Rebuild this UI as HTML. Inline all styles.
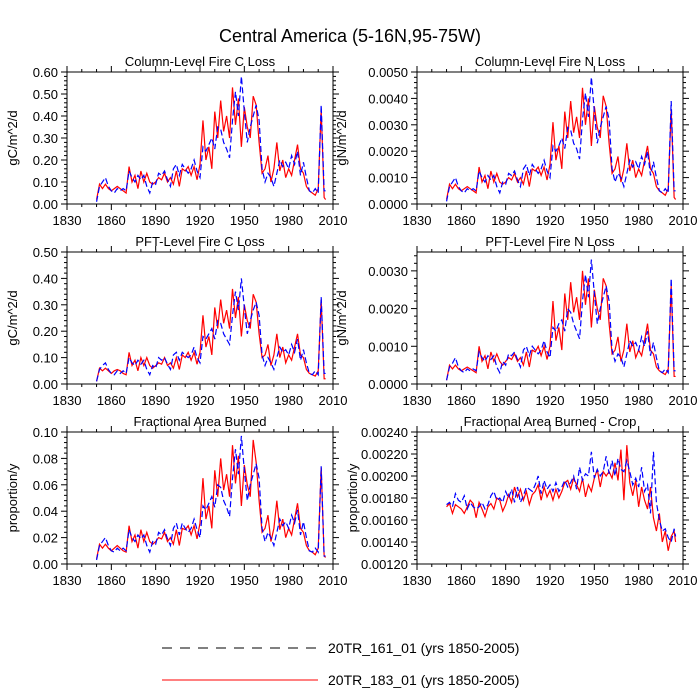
<!DOCTYPE html>
<html><head><meta charset="utf-8"><style>
body{margin:0;background:#fff;}
svg{display:block;font-family:"Liberation Sans",sans-serif;}
</style></head><body>
<svg id="fig" width="700" height="700" viewBox="0 0 700 700" xmlns="http://www.w3.org/2000/svg">
<text x="350" y="42" text-anchor="middle" font-size="18">Central America (5-16N,95-75W)</text>
<g>
<line x1="162" y1="648" x2="318" y2="648" stroke="#000" stroke-width="1" stroke-dasharray="10,8"/>
<text x="328" y="653" font-size="14">20TR_161_01 (yrs 1850-2005)</text>
<line x1="162" y1="680" x2="318" y2="680" stroke="#f00" stroke-width="1"/>
<text x="328" y="685" font-size="14">20TR_183_01 (yrs 1850-2005)</text>
</g>
</svg>
<script>
const p1Red=[0.02,0.09,0.07,0.09,0.07,0.06,0.07,0.08,0.07,0.06,
0.05,0.17,0.10,0.13,0.07,0.15,0.10,0.14,0.10,0.09,
0.10,0.12,0.11,0.14,0.10,0.12,0.09,0.15,0.08,0.16,
0.15,0.17,0.13,0.17,0.11,0.18,0.38,0.20,0.26,0.16,
0.42,0.30,0.47,0.33,0.40,0.30,0.53,0.36,0.48,0.26,
0.44,0.35,0.30,0.49,0.45,0.28,0.14,0.16,0.22,0.10,
0.16,0.28,0.15,0.20,0.12,0.16,0.13,0.20,0.27,0.16,
0.14,0.08,0.06,0.05,0.04,0.07,0.43,0.03,0.02];
const p1Blue=[0.01,0.08,0.10,0.12,0.08,0.06,0.05,0.07,0.06,0.07,
0.06,0.15,0.12,0.10,0.13,0.11,0.13,0.08,0.05,0.10,
0.09,0.14,0.13,0.15,0.11,0.08,0.16,0.18,0.13,0.18,
0.16,0.14,0.16,0.20,0.15,0.12,0.26,0.24,0.27,0.30,
0.25,0.35,0.34,0.28,0.25,0.21,0.38,0.51,0.40,0.58,
0.42,0.28,0.35,0.40,0.45,0.38,0.16,0.10,0.14,0.12,
0.08,0.14,0.20,0.17,0.19,0.16,0.22,0.18,0.24,0.13,
0.19,0.12,0.06,0.05,0.07,0.05,0.45,0.06,0.06];
const p2Red=[0.00017,0.00075,0.00058,0.00075,0.00058,0.0005,0.00058,0.00066,0.00058,0.0005,
0.00042,0.0014,0.00083,0.00108,0.00058,0.00125,0.00083,0.00116,0.00083,0.00075,
0.00083,0.001,0.00091,0.00116,0.00083,0.001,0.00075,0.00125,0.00066,0.00133,
0.00125,0.0014,0.00108,0.0014,0.00091,0.0015,0.0031,0.00166,0.0022,0.00133,
0.0035,0.0025,0.0039,0.0027,0.0033,0.0025,0.0044,0.003,0.004,0.0022,
0.0037,0.0029,0.0025,0.0041,0.0037,0.0023,0.00116,0.00133,0.0018,0.00083,
0.00133,0.0023,0.00125,0.00166,0.001,0.00133,0.00108,0.00166,0.0022,0.00133,
0.00116,0.00066,0.0005,0.00042,0.00033,0.00058,0.0036,0.00025,0.00017];
const p2Blue=[0.0001,0.00066,0.00083,0.001,0.00066,0.0005,0.00042,0.00058,0.0005,0.00058,
0.0005,0.00125,0.001,0.00083,0.00108,0.00091,0.00108,0.00066,0.00042,0.00083,
0.00075,0.00116,0.00108,0.00125,0.00091,0.00066,0.00133,0.0015,0.00108,0.0015,
0.00133,0.00116,0.00133,0.00166,0.00125,0.001,0.0022,0.002,0.0022,0.0025,
0.0021,0.0029,0.0028,0.0023,0.0021,0.0017,0.0032,0.0042,0.0033,0.0048,
0.0035,0.0023,0.0029,0.0033,0.0037,0.0032,0.00133,0.00083,0.00116,0.001,
0.00066,0.00116,0.00166,0.0014,0.0016,0.00133,0.0018,0.0015,0.002,0.00108,
0.0016,0.001,0.0005,0.00042,0.00058,0.00042,0.0039,0.0005,0.0005];
const p3Red=[0.01,0.06,0.05,0.06,0.05,0.04,0.05,0.055,0.05,0.04,
0.035,0.12,0.07,0.09,0.05,0.10,0.07,0.10,0.07,0.06,
0.07,0.08,0.075,0.10,0.07,0.08,0.06,0.10,0.055,0.11,
0.10,0.12,0.09,0.12,0.075,0.12,0.26,0.14,0.18,0.11,
0.29,0.21,0.32,0.23,0.28,0.21,0.36,0.25,0.33,0.18,
0.30,0.24,0.21,0.34,0.31,0.19,0.10,0.11,0.15,0.07,
0.11,0.19,0.10,0.14,0.08,0.11,0.09,0.14,0.19,0.11,
0.10,0.055,0.04,0.035,0.03,0.05,0.32,0.02,0.02];
const p3Blue=[0.01,0.055,0.07,0.08,0.055,0.04,0.035,0.05,0.04,0.05,
0.04,0.10,0.08,0.07,0.09,0.075,0.09,0.055,0.035,0.07,
0.06,0.10,0.09,0.10,0.075,0.055,0.11,0.12,0.09,0.12,
0.11,0.10,0.11,0.14,0.10,0.08,0.18,0.17,0.19,0.21,
0.17,0.24,0.23,0.19,0.17,0.15,0.26,0.35,0.28,0.40,
0.29,0.19,0.24,0.28,0.31,0.26,0.11,0.07,0.10,0.08,
0.055,0.10,0.14,0.12,0.13,0.11,0.15,0.12,0.17,0.09,
0.13,0.08,0.04,0.035,0.05,0.035,0.33,0.04,0.04];
const p4Red=[0.0001,0.0005,0.0004,0.0005,0.0004,0.00035,0.0004,0.00045,0.0004,0.00035,
0.0003,0.001,0.0006,0.00075,0.0004,0.00085,0.0006,0.0008,0.0006,0.0005,
0.0006,0.0007,0.00065,0.0008,0.0006,0.0007,0.0005,0.00085,0.00045,0.0009,
0.00085,0.001,0.00075,0.001,0.00065,0.001,0.0022,0.00115,0.0015,0.0009,
0.0024,0.0017,0.0027,0.0019,0.0023,0.0017,0.003,0.0021,0.0028,0.0015,
0.0025,0.002,0.0017,0.0028,0.0026,0.0016,0.0008,0.0009,0.00125,0.0006,
0.0009,0.0016,0.00085,0.00115,0.0007,0.0009,0.00075,0.00115,0.0016,0.0009,
0.0008,0.00045,0.00035,0.0003,0.00025,0.0004,0.0026,0.0002,0.0002];
const p4Blue=[0.0001,0.00045,0.00055,0.0007,0.00045,0.00035,0.0003,0.0004,0.00035,0.0004,
0.00035,0.00085,0.0007,0.0006,0.00075,0.00065,0.00075,0.00045,0.0003,0.0006,
0.0005,0.0008,0.00075,0.00085,0.00065,0.00045,0.0009,0.001,0.00075,0.001,
0.0009,0.0008,0.0009,0.00115,0.00085,0.0007,0.0015,0.0014,0.0016,0.0017,
0.0014,0.002,0.0019,0.0016,0.0014,0.0012,0.0022,0.0029,0.0023,0.0033,
0.0024,0.0016,0.002,0.0023,0.0026,0.0022,0.0009,0.0006,0.0008,0.0007,
0.00045,0.0008,0.00115,0.001,0.0011,0.0009,0.00125,0.001,0.0014,0.00075,
0.0011,0.0007,0.00035,0.0003,0.0004,0.0003,0.0028,0.00035,0.00035];
const p5Red=[0.004,0.015,0.012,0.015,0.012,0.01,0.012,0.014,0.012,0.01,
0.009,0.029,0.017,0.022,0.012,0.026,0.017,0.024,0.017,0.015,
0.017,0.02,0.019,0.024,0.017,0.02,0.015,0.026,0.014,0.027,
0.026,0.029,0.022,0.029,0.019,0.031,0.065,0.034,0.044,0.027,
0.071,0.051,0.08,0.056,0.068,0.051,0.09,0.061,0.082,0.044,
0.075,0.06,0.051,0.094,0.077,0.048,0.024,0.027,0.037,0.017,
0.027,0.048,0.026,0.034,0.02,0.027,0.022,0.034,0.046,0.027,
0.024,0.014,0.01,0.009,0.007,0.012,0.073,0.006,0.005];
const p5Blue=[0.003,0.014,0.017,0.02,0.014,0.01,0.009,0.012,0.01,0.012,
0.01,0.026,0.02,0.017,0.022,0.019,0.022,0.014,0.009,0.017,
0.015,0.024,0.022,0.026,0.019,0.014,0.027,0.031,0.022,0.031,
0.027,0.024,0.027,0.034,0.026,0.02,0.044,0.041,0.046,0.051,
0.043,0.06,0.058,0.048,0.043,0.036,0.065,0.087,0.068,0.097,
0.071,0.048,0.06,0.068,0.076,0.065,0.027,0.017,0.024,0.02,
0.014,0.024,0.034,0.029,0.032,0.027,0.037,0.031,0.041,0.022,
0.032,0.02,0.01,0.009,0.012,0.009,0.074,0.006,0.006];
const p6Red=[0.00172,0.00175,0.00166,0.00174,0.00172,0.0017,0.00166,0.00172,0.00178,0.00175,
0.00162,0.00176,0.0017,0.00163,0.00172,0.00175,0.0017,0.0018,0.00178,0.00168,
0.00174,0.00183,0.00176,0.0019,0.00181,0.00188,0.00178,0.00186,0.00174,0.00183,
0.00186,0.00192,0.00178,0.0019,0.00181,0.00187,0.00178,0.00188,0.0018,0.00186,
0.00194,0.00196,0.00188,0.00198,0.00192,0.00186,0.00198,0.00181,0.00192,0.00186,
0.00198,0.00206,0.0019,0.00204,0.002,0.00204,0.00198,0.00212,0.00196,0.00224,
0.00178,0.00228,0.00194,0.00182,0.00196,0.00172,0.0019,0.00178,0.0017,0.0019,
0.00162,0.0015,0.00166,0.0014,0.0015,0.00132,0.00145,0.0015,0.0014];
const p6Blue=[0.00174,0.00176,0.00172,0.00184,0.00178,0.00176,0.00182,0.0017,0.00176,0.00172,
0.0017,0.00172,0.00176,0.0017,0.00174,0.00182,0.00186,0.00178,0.0018,0.00176,
0.00186,0.0018,0.00188,0.00176,0.0019,0.00176,0.00182,0.0019,0.00188,0.00186,
0.00192,0.002,0.00184,0.00196,0.00188,0.00192,0.00186,0.00194,0.00186,0.0019,
0.00196,0.0019,0.00194,0.002,0.00188,0.00208,0.00196,0.00202,0.002,0.00222,
0.00198,0.00206,0.002,0.00204,0.00218,0.00202,0.00214,0.002,0.00216,0.00206,
0.00204,0.00214,0.00204,0.00192,0.00198,0.0019,0.00208,0.00186,0.00192,0.00166,
0.00222,0.00176,0.0016,0.0015,0.00152,0.00144,0.0014,0.00152,0.00145];
const years=[];
for(let i=0;i<79;i++) years.push(i<78?1850+2*i:2005);
const xTicks=[1830,1860,1890,1920,1950,1980,2010];

const NS="http://www.w3.org/2000/svg";
const svg=document.getElementById('fig');
function mk(tag,attrs,parent){const e=document.createElementNS(NS,tag);for(const k in attrs)e.setAttribute(k,attrs[k]);(parent||svg).appendChild(e);return e;}

const panels=[
 {name:'column-c-loss',title:'Column-Level Fire C Loss',ylab:'gC/m^2/d',yo:50,x0:67,y0:72,min:0,max:0.6,step:0.1,dec:2,red:p1Red,blue:p1Blue},
 {name:'column-n-loss',title:'Column-Level Fire N Loss',ylab:'gN/m^2/d',yo:71,x0:417,y0:72,min:0,max:0.005,step:0.001,dec:4,red:p2Red,blue:p2Blue},
 {name:'pft-c-loss',title:'PFT-Level Fire C Loss',ylab:'gC/m^2/d',yo:50,x0:67,y0:252,min:0,max:0.5,step:0.1,dec:2,red:p3Red,blue:p3Blue},
 {name:'pft-n-loss',title:'PFT-Level Fire N Loss',ylab:'gN/m^2/d',yo:71,x0:417,y0:252,min:0,max:0.0035,step:0.001,dec:4,red:p4Red,blue:p4Blue},
 {name:'area-burned',title:'Fractional Area Burned',ylab:'proportion/y',yo:50,x0:67,y0:432,min:0,max:0.1,step:0.02,dec:2,red:p5Red,blue:p5Blue},
 {name:'area-burned-crop',title:'Fractional Area Burned - Crop',ylab:'proportion/y',yo:60,x0:417,y0:432,min:0.0012,max:0.0024,step:0.0002,dec:5,red:p6Red,blue:p6Blue}
];
const W=266,H=132;
panels.forEach(p=>{
 const g=mk('g',{});
 
 
 const xs=v=>p.x0+(v-1830)/180*W;
 const ys=v=>p.y0+H-(v-p.min)/(p.max-p.min)*H;
 const t=mk('text',{x:p.x0+W/2,y:p.y0-6,'text-anchor':'middle','font-size':13},g);
 t.textContent=p.title;
 
 
 const yl=mk('text',{x:0,y:0,'text-anchor':'middle','font-size':13,transform:`translate(${p.x0-p.yo},${p.y0+H/2}) rotate(-90)`},g);
 yl.textContent=p.ylab;
 
 
 for(let yr=1830;yr<=2010;yr+=10){
  const X=xs(yr), major=(yr-1830)%30===0, L=major?6:3;
  mk('line',{x1:X,y1:p.y0+H,x2:X,y2:p.y0+H+L,stroke:'#000','stroke-width':1},g);
  mk('line',{x1:X,y1:p.y0,x2:X,y2:p.y0-L,stroke:'#000','stroke-width':1},g);
 }
 xTicks.forEach(v=>{
  const tx=mk('text',{x:xs(v),y:p.y0+H+21,'text-anchor':'middle','font-size':13},g);
  tx.textContent=v;
  
  
 });
 const nMaj=Math.round((p.max-p.min)/p.step);
 for(let i=0;i<=nMaj*5;i++){
  const v=p.min+i*p.step/5; if(v>p.max+1e-12)break;
  const Y=ys(v), major=i%5===0, L=major?6:3;
  mk('line',{x1:p.x0,y1:Y,x2:p.x0-L,y2:Y,stroke:'#000','stroke-width':1},g);
  mk('line',{x1:p.x0+W,y1:Y,x2:p.x0+W+L,y2:Y,stroke:'#000','stroke-width':1},g);
 }
 for(let i=0;i<=nMaj;i++){
  const v=p.min+i*p.step; if(v>p.max+1e-12)break;
  const ty=mk('text',{x:p.x0-9,y:ys(v)+5,'text-anchor':'end','font-size':13},g);
  ty.textContent=v.toFixed(p.dec);
  
  
 }
 const mkLine=(arr,col,dash,nm)=>{
  const d=arr.map((v,i)=>(i?'L':'M')+xs(years[i]).toFixed(2)+','+ys(v).toFixed(2)).join('');
  const pa=mk('path',{d:d,fill:'none',stroke:col,'stroke-width':1.2},g);
  if(dash)pa.setAttribute('stroke-dasharray',dash);
  
  
 };
 mkLine(p.red,'#f00',null,p.name+'-series-183');
 mkLine(p.blue,'#00f','6,3',p.name+'-series-161');
 mk('rect',{x:p.x0,y:p.y0,width:W,height:H,fill:'none',stroke:'#000','stroke-width':1},g);
});
</script>
</body></html>
